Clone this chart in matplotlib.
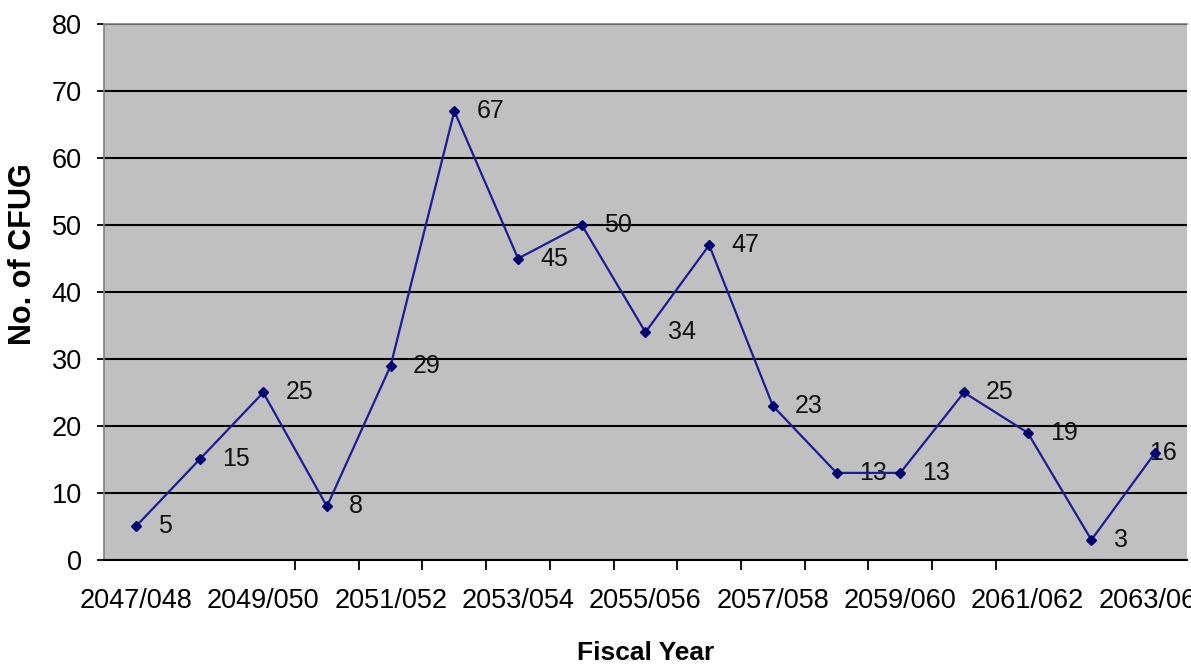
import numpy as np
import matplotlib.pyplot as plt

plt.rcParams['font.family'] = ['Liberation Sans', 'DejaVu Sans']

# Fiscal years and number of community forest user groups handed over
years = ['2047/048', '2048/049', '2049/050', '2050/051', '2051/052', '2052/053',
         '2053/054', '2054/055', '2055/056', '2056/057', '2057/058', '2058/059',
         '2059/060', '2060/061', '2061/062', '2062/063', '2063/064']
cfug = [5, 15, 25, 8, 29, 67, 45, 50, 34, 47, 23, 13, 13, 25, 19, 3, 16]

x = np.arange(len(years))

fig = plt.figure(figsize=(11.91, 6.65), dpi=100)
ax = fig.add_axes([0.0873, 0.1579, 0.9093, 0.806])
ax.set_facecolor('#c0c0c0')

ax.plot(x, cfug, color='#1c1c95', lw=1.6, marker='D', markersize=5,
        markerfacecolor='#000070', markeredgecolor='#000070', zorder=3)

# value labels to the right of each point; the last one is pulled back
# inside the plot area so it sits under the marker
for i, v in enumerate(cfug):
    dx = 16 if i < len(cfug) - 1 else -4
    ax.annotate(str(v), (x[i], v), xytext=(dx, 0), textcoords='offset points',
                ha='left', va='center', fontsize=18, color='#111111', zorder=2)

ax.set_xlim(-0.5, len(years) - 0.5)
ax.set_ylim(0, 80)

# horizontal gridlines
ax.set_yticks(np.arange(0, 81, 10))
ax.yaxis.grid(True, color='black', lw=1.5)
ax.set_axisbelow(True)

ax.set_xticks(x[::2])
ax.set_xticklabels(years[::2])
ax.set_xticks(np.arange(2.5, 14, 1), minor=True)
ax.tick_params(axis='x', which='major', length=0, pad=20, labelsize=19.5)
ax.tick_params(axis='x', which='minor', length=7, width=1.3, color='black')
ax.tick_params(axis='y', length=5, width=1.3, color='black', pad=11, labelsize=19.5)

for side in ['top', 'left']:
    ax.spines[side].set_color('#808080')
    ax.spines[side].set_linewidth(1.2)
ax.spines['right'].set_visible(False)
ax.spines['bottom'].set_color('black')
ax.spines['bottom'].set_linewidth(1.5)

fig.text(0.019, 0.618, 'No. of CFUG', rotation=90, ha='center', va='center',
         fontsize=22, fontweight='bold')
fig.text(0.542, 0.0, 'Fiscal Year', ha='center', va='bottom',
         fontsize=19, fontweight='bold')

fig.savefig('out.png', dpi=100)
